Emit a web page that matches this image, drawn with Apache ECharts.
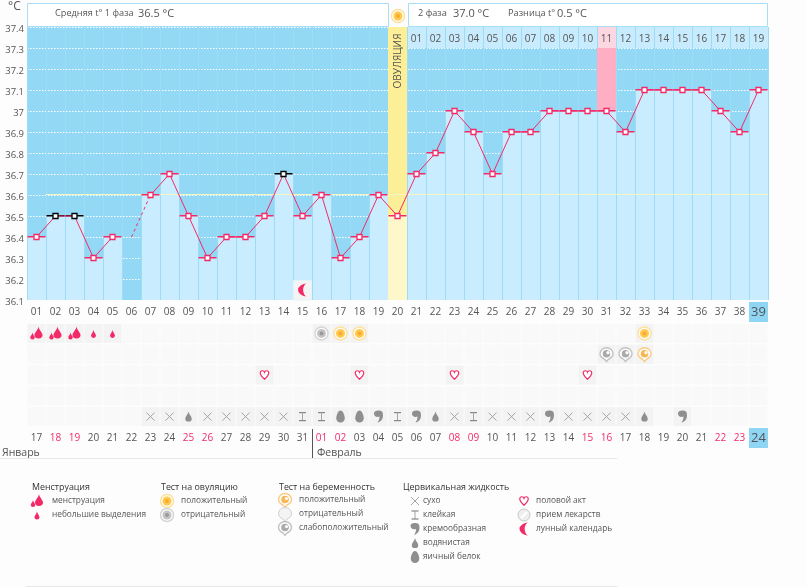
<!DOCTYPE html>
<html><head><meta charset="utf-8">
<style>html,body{margin:0;padding:0;background:#fdfdfd}#c{width:806px;height:587px}</style>
<script src="https://cdn.jsdelivr.net/npm/echarts@6/dist/echarts.min.js"></script>
</head><body><div id="c"></div>
<script>
const cycleDays=['01','02','03','04','05','06','07','08','09','10','11','12','13','14','15','16','17','18','19','20','21','22','23','24','25','26','27','28','29','30','31','32','33','34','35','36','37','38','39'];
const dates=['17','18','19','20','21','22','23','24','25','26','27','28','29','30','31','01','02','03','04','05','06','07','08','09','10','11','12','13','14','15','16','17','18','19','20','21','22','23','24'];
const weekendCols=[2,3,9,10,16,17,23,24,30,31,37,38];
const phase2Days=['','','','','','','','','','','','','','','','','','','','','01','02','03','04','05','06','07','08','09','10','11','12','13','14','15','16','17','18','19'];
const temps=[36.4,36.5,36.5,36.3,36.4,null,36.6,36.7,36.5,36.3,36.4,36.4,36.5,36.7,36.5,36.6,36.3,36.4,36.6,36.5,36.7,36.8,37.0,36.9,36.7,36.9,36.9,37.0,37.0,37.0,37.0,36.9,37.1,37.1,37.1,37.1,37.0,36.9,37.1];
const estimatedFrom=36.4, estimatedCol=6, estimatedTo=7;
const blackCols=[2,3,14];
const coverLine=36.6, coverFromCol=2;
const ovulationCol=20, peakCol=31, moonCol=15;
const heavyFlow=[1,2,3], lightFlow=[4,5];
const ovulationPos=[17,18,33], ovulationNeg=[16];
const pregnancyPos=[33], pregnancyWeak=[31,32];
const intercourse=[13,18,23,30];
const mucusDry=[7,8,10,11,12,13,14,23,25,26,27,29,30,31,32];
const mucusSticky=[15,16,20,24];
const mucusCream=[19,21,28,35];
const mucusWater=[9,22,33];
const mucusEgg=[17,18];
const rowNames=['a','b','c','d','e'];
const legendHeads=['Менструация','Тест на овуляцию','Тест на беременность','Цервикальная жидкость'];
const legendLabels=['менструация','небольшие выделения','положительный','отрицательный','положительный','отрицательный','слабоположительный','сухо','клейкая','кремообразная','водянистая','яичный белок','половой акт','прием лекарств','лунный календарь'];

const FONT='"Open Sans"', TXT='#555555', PINK='#f42a68', GREY='#8f8f8f';
const marks=[];
const put=(list,row,kind)=>list.forEach(c=>marks.push([c-1,row,kind]));
put(heavyFlow,0,'heavy');put(lightFlow,0,'light');put(ovulationPos,0,'ovPos');put(ovulationNeg,0,'ovNeg');
put(pregnancyPos,1,'prPos');put(pregnancyWeak,1,'prWeak');put(intercourse,2,'heart');
put(mucusDry,4,'dry');put(mucusSticky,4,'sticky');put(mucusCream,4,'cream');put(mucusWater,4,'water');put(mucusEgg,4,'egg');

const DROP='M5 0C5.5 4 10 7 10 10A5 4 0 0 1 0 10C0 7 4.5 4 5 0Z';
const COMMA='M0 3.5A5 3.5 0 0 1 10 4C11 9 8 13 4 14C6 11 6.5 8.5 6 7C3 8.5 0 6.5 0 3.5Z';
const HEART='M5 9.5C0 5.5 0 3.5 0 2.5C0 0 4 -0.5 5 2C6 -0.5 10 0 10 2.5C10 3.5 10 5.5 5 9.5Z';
const MOON='M8 0A7 7 0 1 0 8 14A3 7 0 0 1 8 0Z';
const TAG='M7 0A7 6.5 0 0 1 14 6.5C14 9.5 12 11 9 12.5L7 15L5 12.5C2 11 0 9.5 0 6.5A7 6.5 0 0 1 7 0Z';
const path=(d,cx,cy,w,h,style)=>({type:'path',shape:{pathData:d,layout:'cover',x:cx-w/2,y:cy-h/2,width:w,height:h},style});
const circ=(cx,cy,r,style)=>({type:'circle',shape:{cx,cy,r},style});
const line=(x1,y1,x2,y2,stroke,w)=>({type:'line',shape:{x1,y1,x2,y2},style:{stroke,lineWidth:w||1}});
function sun(x,y,a,b,c){return [circ(x,y,6.5,{fill:'#fff',stroke:a,lineWidth:1.5}),circ(x,y,4.5,{fill:b}),circ(x,y,2,{fill:c})];}
function tag(x,y,a,b,c){return [path(TAG,x,y+.5,13,14,{fill:'#fff',stroke:a,lineWidth:1.4}),circ(x,y-.5,3.8,{fill:b}),circ(x+1.5,y-1.5,1.6,{fill:c})];}
function icon(k,x,y){switch(k){
 case 'heavy':return [path(DROP,x+2,y-1,8,12,{fill:PINK}),path(DROP,x-4,y+2.5,4.5,7,{fill:PINK})];
 case 'light':return [path(DROP,x,y+.5,5,8,{fill:PINK})];
 case 'ovPos':return sun(x,y,'#fde2a0','#ffc94f','#fbab2b');
 case 'ovNeg':return sun(x,y,'#d5d5d5','#c4c4c4','#9a9a9a');
 case 'prPos':return tag(x,y,'#f9cc86','#f8b755','#ffffff');
 case 'prWeak':return tag(x,y,'#c2c2c2','#ababab','#ffffff');
 case 'prNeg':return [path(TAG,x,y+.5,13,14,{fill:'#f4f4f4',stroke:'#cfcfcf',lineWidth:1})];
 case 'heart':return [path(HEART,x,y,8.5,8.5,{fill:'#fff',stroke:PINK,lineWidth:1.2})];
 case 'dry':return [line(x-4,y-4,x+4,y+4,'#a5a5a5'),line(x-4,y+4,x+4,y-4,'#a5a5a5')];
 case 'sticky':return [line(x-3.5,y-4,x+3.5,y-4,'#858585',1.2),line(x,y-4,x,y+4,'#a5a5a5',1),line(x-3.5,y+4,x+3.5,y+4,'#858585',1.2)];
 case 'cream':return [path(COMMA,x,y,9,12,{fill:GREY})];
 case 'water':return [path(DROP,x,y,6.5,10,{fill:GREY})];
 case 'egg':return [path('M5 0C8 0 10 6 10 9A5 5 0 0 1 0 9C0 6 2 0 5 0Z',x,y,8.5,12,{fill:GREY})];
 case 'pill':return [circ(x,y,6,{fill:'#eeeeee',stroke:'#c8c8c8'}),line(x-3,y+3,x+3,y-3,'#fff',2)];
 case 'moon':return [path(MOON,x,y,9,13,{fill:PINK})];
} return [];}

const legendLayout=[
 {x:37,y:501,tx:52,k:'heavy'},{x:37,y:515,tx:52,k:'light'},
 {x:167,y:501,tx:181,k:'ovPos'},{x:167,y:515,tx:181,k:'ovNeg'},
 {x:285,y:500,tx:299,k:'prPos'},{x:285,y:514,tx:299,k:'prNeg'},{x:285,y:528,tx:299,k:'prWeak'},
 {x:415,y:501,tx:423,k:'dry'},{x:415,y:515,tx:423,k:'sticky'},{x:415,y:529,tx:423,k:'cream'},{x:415,y:543,tx:423,k:'water'},{x:415,y:557,tx:423,k:'egg'},
 {x:524,y:501,tx:536,k:'heart'},{x:524,y:515,tx:536,k:'pill'},{x:524,y:529,tx:536,k:'moon'}];
const headX=[32,161,279,403];
const txt=(x,y,text,fs,fill,weight)=>({type:'text',style:{x,y,text,fill:fill||TXT,fontFamily:FONT,fontSize:fs,fontWeight:weight||'normal',verticalAlign:'middle',textAlign:'left'}});

const axisBase={axisLine:{show:false},axisTick:{show:false}};
const option={
 animation:false,backgroundColor:'#fdfdfd',textStyle:{fontFamily:FONT},
 grid:[
  {left:27,right:38,top:27,height:273,show:true,backgroundColor:'#93d8f5',borderWidth:0},
  {left:27,right:38,top:323,height:104,show:false}],
 xAxis:[
  {...axisBase,type:'category',gridIndex:0,data:cycleDays,z:3,splitLine:{show:true,interval:0,lineStyle:{color:'#9cdcf5',width:1}},
   axisLabel:{interval:0,margin:2,fontFamily:FONT,fontSize:10,color:TXT,formatter:(v,i)=>i===38?'{hl|'+v+'}':'{n|'+v+'}',
    rich:{n:{fontFamily:FONT,fontSize:10,color:TXT,lineHeight:20,height:20},hl:{fontFamily:FONT,fontSize:13,color:TXT,backgroundColor:'#8fd6f5',width:19,height:20,lineHeight:20,align:'center'}}}},
  {...axisBase,type:'category',gridIndex:0,position:'top',data:phase2Days,z:7,splitLine:{show:false},
   axisLabel:{inside:true,interval:0,margin:7,fontFamily:FONT,fontSize:10,color:TXT,verticalAlign:'top'}},
  {...axisBase,type:'category',gridIndex:1,data:dates,splitLine:{show:false},
   axisLabel:{interval:0,margin:1,fontFamily:FONT,fontSize:10,color:TXT,
    formatter:(v,i)=>i===38?'{hl|'+v+'}':(weekendCols.includes(i+1)?'{r|'+v+'}':'{n|'+v+'}'),
    rich:{n:{fontFamily:FONT,fontSize:10,color:TXT,lineHeight:20,height:20},r:{fontFamily:FONT,fontSize:10,color:PINK,lineHeight:20,height:20},
     hl:{fontFamily:FONT,fontSize:13,color:TXT,backgroundColor:'#8fd6f5',width:19,height:20,lineHeight:20,align:'center'}}}}],
 yAxis:[
  {...axisBase,type:'value',gridIndex:0,min:36.1,max:37.4,interval:0.1,
   splitLine:{show:true,lineStyle:{color:'#ffffff',type:[1.5,1.5],width:1}},
   axisLabel:{margin:3,verticalAlign:'top',lineHeight:4,fontFamily:FONT,fontSize:9.5,color:TXT,formatter:v=>String(Number(v.toFixed(1)))}},
  {...axisBase,type:'category',gridIndex:1,inverse:true,data:rowNames,axisLabel:{show:false},splitLine:{show:false}}],
 graphic:[
  {type:'rect',z:10,shape:{x:27.5,y:3.5,width:361,height:23},style:{fill:'#fff',stroke:'#a5dff5'}},
  {type:'rect',z:10,shape:{x:408.5,y:3.5,width:359,height:23},style:{fill:'#fff',stroke:'#a5dff5'}},
  {type:'text',z:11,x:8,y:1,style:{text:'°C',font:'12px '+FONT,fill:TXT}},
  {type:'text',z:11,x:55,y:9,style:{text:'Средняя t° 1 фаза',font:'9.2px '+FONT,fill:TXT}},
  {type:'text',z:11,x:138,y:8,style:{text:'36.5 °C',font:'11px '+FONT,fill:TXT}},
  {type:'text',z:11,x:418,y:9,style:{text:'2 фаза',font:'9.2px '+FONT,fill:TXT}},
  {type:'text',z:11,x:453,y:8,style:{text:'37.0 °C',font:'11px '+FONT,fill:TXT}},
  {type:'text',z:11,x:508,y:9,style:{text:'Разница t°',font:'9.2px '+FONT,fill:TXT}},
  {type:'text',z:11,x:557,y:8,style:{text:'0.5 °C',font:'11px '+FONT,fill:TXT}},
  {type:'text',z:11,x:398,y:61,rotation:Math.PI/2,style:{text:'ОВУЛЯЦИЯ',font:'10px '+FONT,fill:'#555',textAlign:'center',textVerticalAlign:'middle',align:'center',verticalAlign:'middle'}},
  {type:'text',z:11,x:2,y:448,style:{text:'Январь',font:'10.5px '+FONT,fill:TXT}},
  {type:'text',z:11,x:317,y:448,style:{text:'Февраль',font:'10.5px '+FONT,fill:TXT}},
  {type:'line',z:11,shape:{x1:312.5,y1:429,x2:312.5,y2:458},style:{stroke:'#555',lineWidth:1}},
  {type:'line',z:11,shape:{x1:0,y1:458.5,x2:617,y2:458.5},style:{stroke:'#e8e8e8',lineWidth:1}},
  {type:'line',z:11,shape:{x1:26,y1:586.5,x2:617,y2:586.5},style:{stroke:'#e8e8e8',lineWidth:1}}
 ],
 series:[
  {type:'bar',name:'temperature',xAxisIndex:0,yAxisIndex:0,data:temps,barWidth:'100%',barGap:0,z:2,silent:true,itemStyle:{color:'#c9edfe'}},
  {type:'custom',name:'phase2Header',xAxisIndex:0,yAxisIndex:0,z:2,silent:true,clip:false,
   data:phase2Days.map((d,i)=>[i,d]).filter(d=>d[1]),encode:{x:0,y:-1},
   renderItem:(p,api)=>{const a=api.coord([api.value(0),37.4]),b=api.coord([api.value(0),37.3]),w=api.size([1,0])[0];
    return {type:'rect',shape:{x:a[0]-w/2,y:a[1],width:w,height:b[1]-a[1]},style:{fill:api.value(0)===peakCol-1?'#fcd7e1':'#c8ecfd'}};}},
  {type:'custom',name:'bands',xAxisIndex:0,yAxisIndex:0,z:4,silent:true,
   data:[[ovulationCol-1,37.4,temps[ovulationCol-1]],[peakCol-1,37.3,temps[peakCol-1]]],encode:{x:0,y:1},
   renderItem:(p,api)=>{const i=api.value(0),w=api.size([1,0])[0];
    const t=api.coord([i,api.value(1)]),m=api.coord([i,api.value(2)]),b=api.coord([i,36.1]);
    const ov=i===ovulationCol-1;const ch=[{type:'rect',shape:{x:t[0]-w/2,y:t[1],width:w,height:m[1]-t[1]},style:{fill:ov?'#fcef97':'#ffaec4'}}];
    if(ov)ch.push({type:'rect',shape:{x:t[0]-w/2,y:m[1],width:w,height:b[1]-m[1]},style:{fill:'#fdf7ca'}});
    return {type:'group',children:ch};}},
  {type:'custom',name:'coverLine',xAxisIndex:0,yAxisIndex:0,z:5,silent:true,clip:false,
   data:[[coverFromCol-1,coverLine,38]],encode:{x:0,y:1},
   renderItem:(p,api)=>{const w=api.size([1,0])[0],a=api.coord([api.value(0),api.value(1)]),b=api.coord([api.value(2),api.value(1)]);
    return {type:'line',shape:{x1:a[0]-w/2,y1:a[1]-.5,x2:b[0]+w/2,y2:a[1]-.5},style:{stroke:'#f4f8c0',lineWidth:1}};}},
  {type:'custom',name:'caps',xAxisIndex:0,yAxisIndex:0,z:6,silent:true,clip:false,
   data:temps.map((t,i)=>[i,t]).filter(d=>d[1]!=null),encode:{x:0,y:1},
   renderItem:(p,api)=>{const c=api.coord([api.value(0),api.value(1)]),w=api.size([1,0])[0];
    return {type:'rect',shape:{x:c[0]-w/2+.5,y:c[1]-1,width:w-1,height:1.5},style:{fill:blackCols.includes(api.value(0)+1)?'#000':PINK}};}},
  {type:'line',name:'chart',xAxisIndex:0,yAxisIndex:0,z:7,silent:true,clip:false,connectNulls:false,symbol:'rect',symbolSize:5,
   data:temps.map((t,i)=>({value:t,itemStyle:{color:'#fff',borderColor:blackCols.includes(i+1)?'#000':PINK,borderWidth:1.3}})),
   lineStyle:{color:PINK,width:1}},
  {type:'line',name:'estimated',xAxisIndex:0,yAxisIndex:0,z:6,silent:true,symbol:'none',
   data:temps.map((t,i)=>i===estimatedCol-1?estimatedFrom:(i===estimatedTo-1?t:null)),
   lineStyle:{color:PINK,width:1,type:[3,3]}},
  {type:'custom',name:'moon',xAxisIndex:0,yAxisIndex:0,z:8,silent:true,clip:false,
   data:[[moonCol-1,36.1]],encode:{x:0,y:1},
   renderItem:(p,api)=>{const c=api.coord([api.value(0),api.value(1)]);
    return {type:'group',children:[{type:'rect',shape:{x:c[0]-9,y:c[1]-19.5,width:18,height:19.5},style:{fill:'#f4f4f4',stroke:'#e4f3fa'}}].concat(icon('moon',c[0],c[1]-10))};}},
  {type:'custom',name:'cells',xAxisIndex:2,yAxisIndex:1,z:1,silent:true,clip:false,
   data:rowNames.flatMap((r,ri)=>cycleDays.map((d,i)=>[i,ri])),encode:{x:0,y:1},
   renderItem:(p,api)=>{const c=api.coord([api.value(0),api.value(1)]);
    return {type:'rect',shape:{x:c[0]-9,y:c[1]-9.5,width:18,height:19},style:{fill:'#f9f9f9'}};}},
  {type:'custom',name:'marks',xAxisIndex:2,yAxisIndex:1,z:2,silent:true,clip:false,
   data:marks,encode:{x:0,y:1},dimensions:['x','y',{name:'k',type:'ordinal'}],
   renderItem:(p,api)=>{const c=api.coord([api.value(0),api.value(1)]);const k=marks[p.dataIndex][2];
    return {type:'group',children:[{type:'rect',shape:{x:c[0]-9,y:c[1]-9.5,width:18,height:19},style:{fill:'#f3f3f3'}}].concat(icon(k,c[0],c[1]))};}},
  {type:'custom',name:'legend',coordinateSystem:'none',z:12,silent:true,clip:false,
   data:[[0]],
   renderItem:()=>{const ch=[];
    legendHeads.forEach((t,i)=>ch.push(txt(headX[i],487,t,8.9,'#333')));
    legendLabels.forEach((t,i)=>{const l=legendLayout[i];ch.push(...icon(l.k,l.x,l.y),txt(l.tx,l.y,t,8.3,TXT));});
    ch.push(...icon('ovPos',398,16));
    return {type:'group',children:ch};}}
 ]};
const chart=echarts.init(document.getElementById('c'));
chart.setOption(option);
</script></body></html>
